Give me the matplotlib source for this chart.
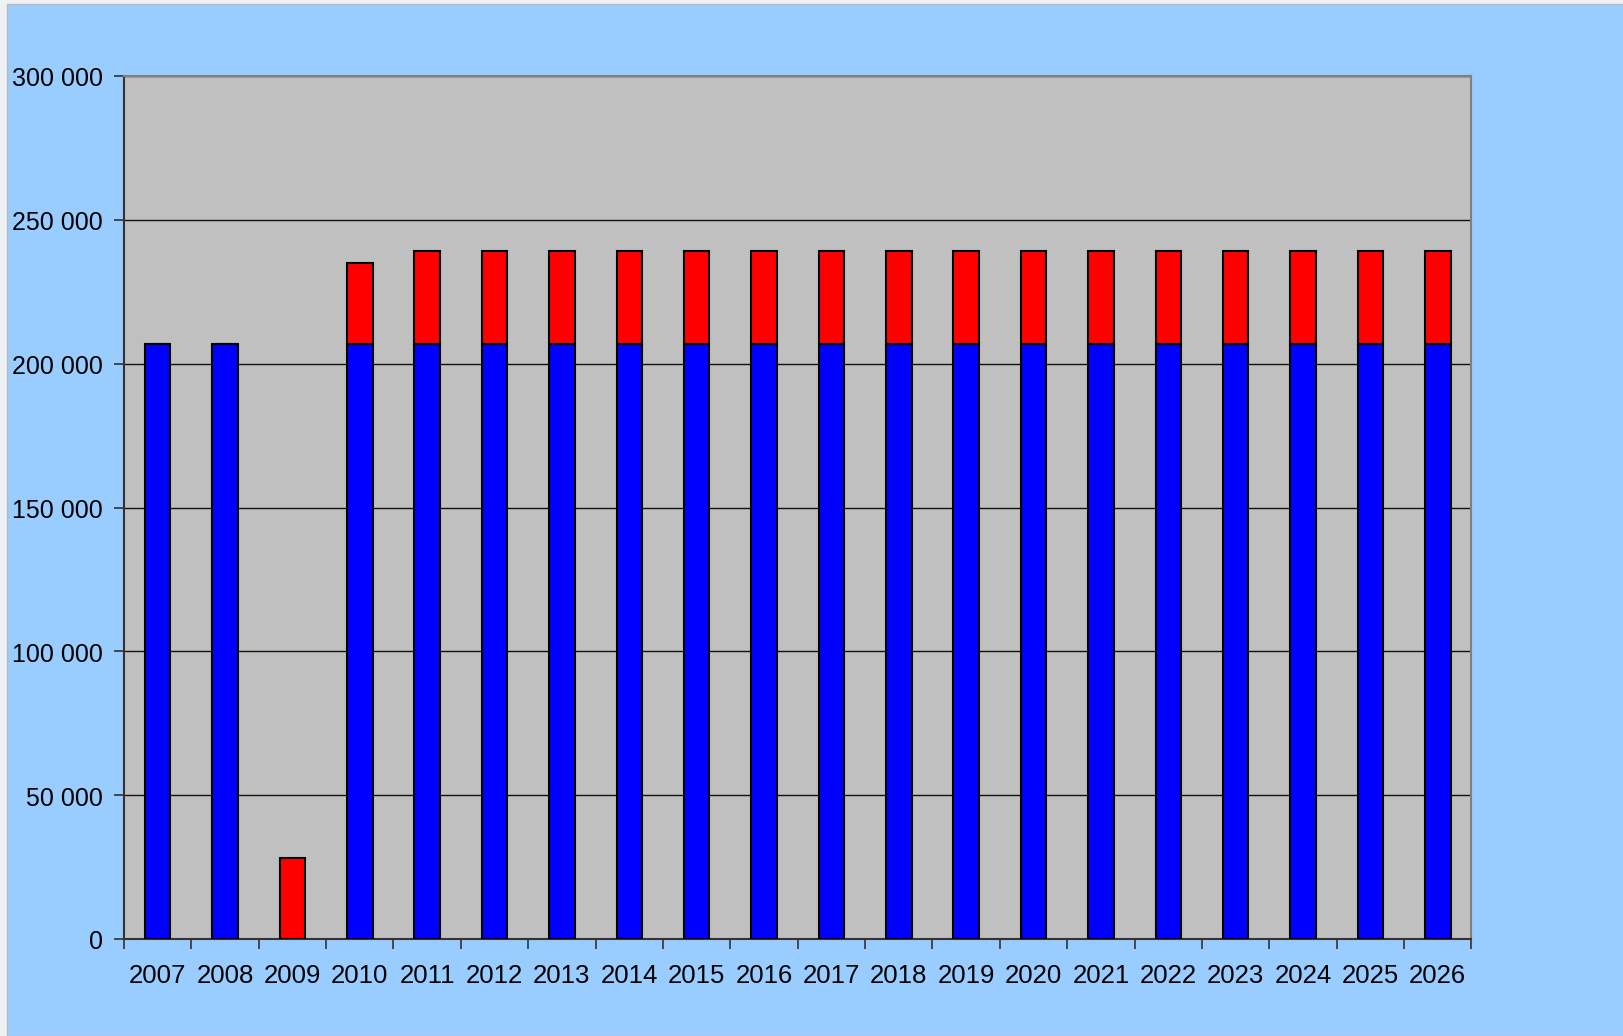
import numpy as np
import matplotlib
matplotlib.use("Agg")
import matplotlib.pyplot as plt
from matplotlib.patches import Rectangle
from matplotlib.ticker import FuncFormatter

plt.rcParams['font.family'] = ['Liberation Sans', 'DejaVu Sans']

# data
years = [str(y) for y in range(2007, 2027)]
blue_vals = [207000, 207000, 0] + [207000] * 17
red_vals = [0, 0, 28000, 28000] + [32000] * 16

fig = plt.figure(figsize=(16.24, 10.3699), dpi=100)
fig.patch.set_facecolor('#eef2f4')
# light blue chart area with the thin outer border
bg = Rectangle((7 / 1624, 0), 1.0, 1 - 5 / 1037, transform=fig.transFigure,
               facecolor='#99ccff', edgecolor='#b8bcc0', linewidth=1.0, zorder=-10)
fig.add_artist(bg)

ax = fig.add_axes([124 / 1624, 97 / 1037, 1347.5 / 1624, 863 / 1037])
ax.set_zorder(5)
ax.set_facecolor('#c0c0c0')

x = np.arange(len(years))
w = 0.38
ax.bar(x, blue_vals, width=w, color='#0000ff', edgecolor='black', linewidth=1.5, zorder=3)
ax.bar(x, red_vals, width=w, bottom=blue_vals, color='#ff0000', edgecolor='black',
       linewidth=1.5, zorder=3)

ax.set_xlim(-0.5, len(years) - 0.5)
ax.set_ylim(0, 300000)
ax.set_yticks(np.arange(0, 300001, 50000))
ax.yaxis.set_major_formatter(FuncFormatter(lambda v, p: f"{int(v):,}".replace(",", " ")))
ax.yaxis.grid(True, color='#111111', linewidth=1.0, zorder=1)
ax.set_axisbelow(True)

# category ticks at boundaries, labels centred
ax.set_xticks(np.arange(-0.5, len(years), 1.0))
ax.set_xticklabels([])
ax.set_xticks(x, minor=True)
ax.set_xticklabels(years, minor=True)
ax.tick_params(axis='x', which='minor', length=0, pad=17, labelsize=18.5)
ax.tick_params(axis='x', which='major', length=7, width=1.2, direction='out', color='#333333')
ax.tick_params(axis='y', length=7, width=1.2, direction='out', pad=8, labelsize=18,
               color='#333333')

for s in ['top', 'right']:
    ax.spines[s].set_color('#808080')
    ax.spines[s].set_linewidth(1.5)
for s in ['left', 'bottom']:
    ax.spines[s].set_color('#333333')
    ax.spines[s].set_linewidth(1.5)

fig.savefig('out.png', dpi=100, facecolor=fig.get_facecolor())
